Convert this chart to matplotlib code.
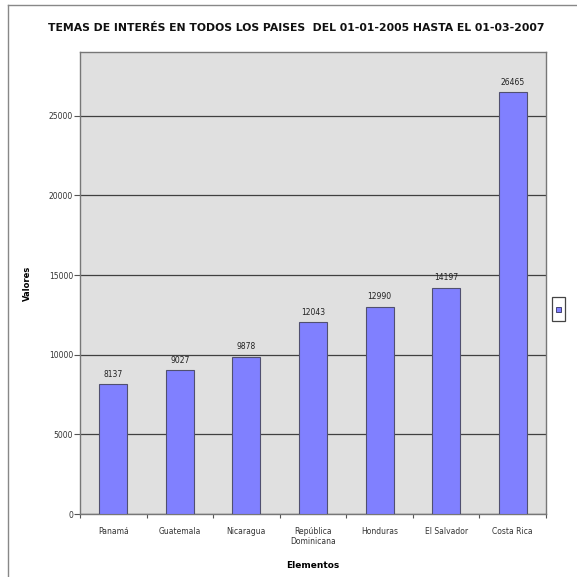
import numpy as np
import matplotlib
matplotlib.use("Agg")
import matplotlib.pyplot as plt
from matplotlib.lines import Line2D
from matplotlib.patches import Rectangle

# data
paises = ["Panamá", "Guatemala", "Nicaragua", "República\nDominicana",
          "Honduras", "El Salvador", "Costa Rica"]
valores = [8137, 9027, 9878, 12043, 12990, 14197, 26465]
yticks = [0, 5000, 10000, 15000, 20000, 25000]

titulo = "TEMAS DE INTERÉS EN TODOS LOS PAISES  DEL 01-01-2005 HASTA EL 01-03-2007"

fig = plt.figure(figsize=(5.77, 5.77), dpi=100)
fig.patch.set_facecolor("white")
ax = fig.add_axes([80/577, 1-514/577, (546-80)/577, (514-52)/577])
ax.set_facecolor("#e0e0e0")

x = np.arange(len(paises))
ax.bar(x, valores, width=0.42, color="#8080ff", edgecolor="#505070",
       linewidth=0.8, zorder=3)

# value labels
for xi, v in zip(x, valores):
    ax.text(xi, v + 350, str(v), ha="center", va="bottom",
            fontsize=5.5, color="#222222")

ax.set_xlim(-0.5, len(paises) - 0.5)
ax.set_ylim(0, 29000)
ax.set_yticks(yticks)
ax.set_yticklabels([str(t) for t in yticks], fontsize=5.5, color="#333333")
ax.yaxis.grid(True, color="#404040", linewidth=0.9, zorder=1)

# category labels between boundary ticks
ax.set_xticks(np.arange(len(paises) + 1) - 0.5)
ax.set_xticklabels([])
ax.set_xticks(x, minor=True)
ax.set_xticklabels(paises, minor=True, fontsize=5.5, color="#333333")
ax.tick_params(axis="x", which="minor", length=0, pad=9)
ax.tick_params(axis="x", which="major", length=3, color="#555555")
ax.tick_params(axis="y", length=4, color="#555555", pad=1)

for s in ax.spines.values():
    s.set_color("#777777")
    s.set_linewidth(1.0)

ax.set_xlabel("Elementos", fontsize=6.5, fontweight="bold", labelpad=11)
ax.set_ylabel("Valores", fontsize=6, fontweight="bold", labelpad=12)

fig.text(296/577, 1-28/577, titulo, ha="center", va="center",
         fontsize=7.8, fontweight="bold", color="#111111")

# empty legend box with one blue marker
fig.add_artist(Rectangle((552/577, 1-321/577), 13/577, 24/577,
                         transform=fig.transFigure, facecolor="white",
                         edgecolor="#444444", linewidth=0.9))
fig.add_artist(Rectangle((556/577, 1-312/577), 5/577, 5/577,
                         transform=fig.transFigure, facecolor="#8080ff",
                         edgecolor="#303060", linewidth=0.6))

# chart frame (left and top edges)
fig.add_artist(Line2D([8/577, 8/577], [0, 1-5/577], transform=fig.transFigure,
                      color="#888888", linewidth=1.0))
fig.add_artist(Line2D([8/577, 1], [1-5/577, 1-5/577], transform=fig.transFigure,
                      color="#888888", linewidth=1.0))

fig.savefig("out.png", dpi=100)
